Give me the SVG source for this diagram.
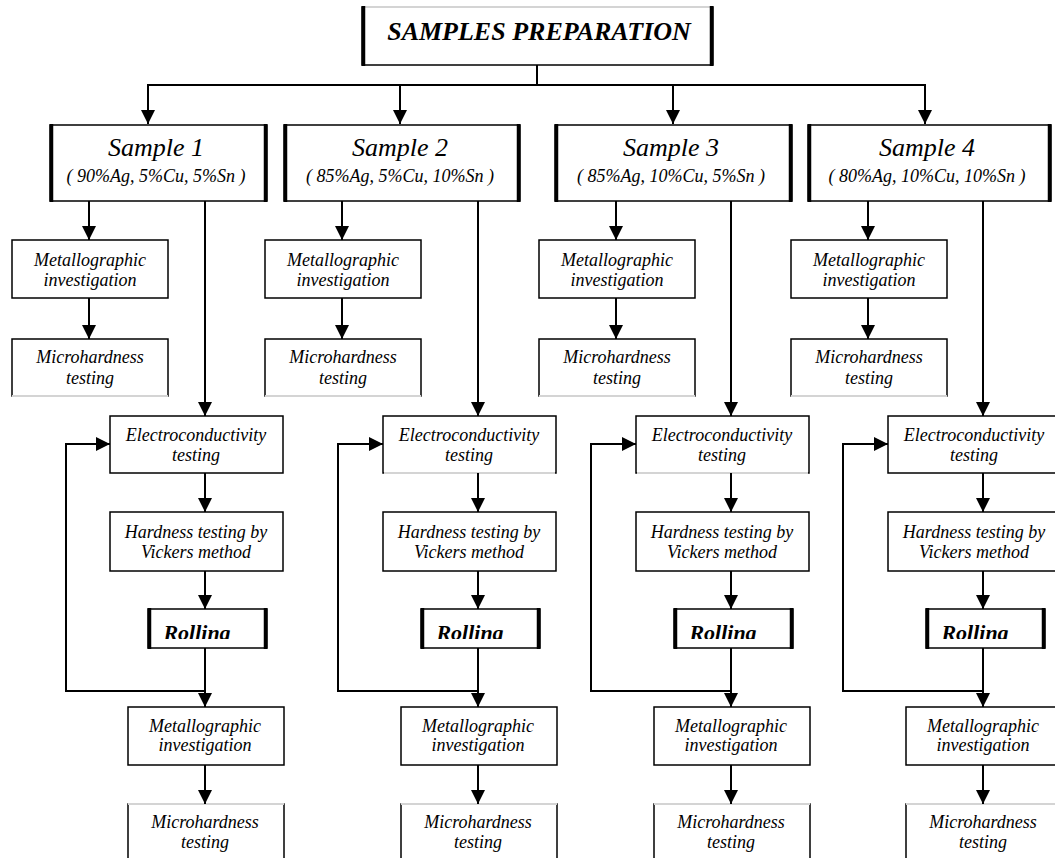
<svg xmlns="http://www.w3.org/2000/svg" width="1055" height="858" viewBox="0 0 1055 858">
<defs>
<marker id="ah" viewBox="0 0 14 14" refX="14" refY="7" markerWidth="14" markerHeight="14" markerUnits="userSpaceOnUse" orient="auto"><path d="M0,0 L14,7 L0,14 z" fill="#000"/></marker>
<clipPath id="rc"><rect x="0" y="600" width="1055" height="39"/></clipPath>
<style>
.bx{fill:#fff;stroke:#000;stroke-width:1.5}
.tk{stroke:#000;stroke-width:3.5}
.gr{stroke:#d4d4d4;stroke-width:2}
.ln{fill:none;stroke:#000;stroke-width:2}
.ar{fill:none;stroke:#000;stroke-width:2;marker-end:url(#ah)}
.t{font-family:"Liberation Serif","Times New Roman",serif;font-style:italic;fill:#000;text-anchor:middle}
.t18{font-size:18px}
.t26{font-size:26px}
.tb{font-family:"Liberation Serif","Times New Roman",serif;font-style:italic;font-weight:bold;fill:#000;text-anchor:middle}
</style>
</defs>
<rect width="1055" height="858" fill="#fff"/>

<g id="title">
<rect class="bx" x="362" y="7" width="351" height="58"/>
<line class="gr" x1="363" y1="7" x2="712" y2="7"/>
<line class="tk" x1="363.5" y1="6" x2="363.5" y2="66"/>
<line class="tk" x1="711.5" y1="6" x2="711.5" y2="66"/>
<text class="tb" x="539" y="40" font-size="26">SAMPLES PREPARATION</text>
</g>

<!-- Column 1 -->
<g id="sample1">
<rect class="bx" x="50" y="125" width="217" height="76"/>
<line class="tk" x1="51.5" y1="124" x2="51.5" y2="202"/>
<line class="tk" x1="265.5" y1="124" x2="265.5" y2="202"/>
<text class="t t26" x="156" y="156">Sample 1</text>
<text class="t t18" x="156" y="182">( 90%Ag, 5%Cu, 5%Sn )</text>
</g>
<g id="metallo1a">
<rect class="bx" x="12" y="240" width="156" height="58"/>
<text class="t t18" x="90" y="266">Metallographic</text>
<text class="t t18" x="90" y="286">investigation</text>
</g>
<g id="micro1a">
<rect class="bx" x="12" y="339" width="156" height="57"/>
<line class="gr" x1="12" y1="396" x2="168" y2="396"/>
<text class="t t18" x="90" y="363">Microhardness</text>
<text class="t t18" x="90" y="384">testing</text>
</g>
<g id="electro1">
<rect class="bx" x="110" y="416" width="173" height="57"/>
<text class="t t18" x="196" y="441">Electroconductivity</text>
<text class="t t18" x="196" y="461">testing</text>
</g>
<g id="hard1">
<rect class="bx" x="110" y="512" width="173" height="59"/>
<text class="t t18" x="196" y="538">Hardness testing by</text>
<text class="t t18" x="196" y="558">Vickers method</text>
</g>
<g id="rolling1">
<rect class="bx" x="148" y="609" width="119" height="39"/>
<line class="tk" x1="149.5" y1="608" x2="149.5" y2="649"/>
<line class="tk" x1="265.5" y1="608" x2="265.5" y2="649"/>
<text class="tb" x="197" y="640" font-size="22" clip-path="url(#rc)">Rolling</text>
</g>
<g id="metallo1b">
<rect class="bx" x="128" y="707" width="156" height="58"/>
<text class="t t18" x="205" y="732">Metallographic</text>
<text class="t t18" x="205" y="751">investigation</text>
</g>
<g id="micro1b">
<rect class="bx" x="128" y="804" width="156" height="60"/>
<line class="gr" x1="128" y1="804" x2="284" y2="804"/>
<text class="t t18" x="205" y="828">Microhardness</text>
<text class="t t18" x="205" y="848">testing</text>
</g>

<!-- Column 2 -->
<g id="sample2">
<rect class="bx" x="284" y="125" width="236" height="76"/>
<line class="tk" x1="285.5" y1="124" x2="285.5" y2="202"/>
<line class="tk" x1="518.5" y1="124" x2="518.5" y2="202"/>
<text class="t t26" x="400" y="156">Sample 2</text>
<text class="t t18" x="400" y="182">( 85%Ag, 5%Cu, 10%Sn )</text>
</g>
<g id="metallo2a">
<rect class="bx" x="265" y="240" width="156" height="58"/>
<text class="t t18" x="343" y="266">Metallographic</text>
<text class="t t18" x="343" y="286">investigation</text>
</g>
<g id="micro2a">
<rect class="bx" x="265" y="339" width="156" height="57"/>
<line class="gr" x1="265" y1="396" x2="421" y2="396"/>
<text class="t t18" x="343" y="363">Microhardness</text>
<text class="t t18" x="343" y="384">testing</text>
</g>
<g id="electro2">
<rect class="bx" x="383" y="416" width="173" height="57"/>
<line class="gr" x1="384" y1="473" x2="555" y2="473"/>
<text class="t t18" x="469" y="441">Electroconductivity</text>
<text class="t t18" x="469" y="461">testing</text>
</g>
<g id="hard2">
<rect class="bx" x="383" y="512" width="173" height="59"/>
<text class="t t18" x="469" y="538">Hardness testing by</text>
<text class="t t18" x="469" y="558">Vickers method</text>
</g>
<g id="rolling2">
<rect class="bx" x="421" y="609" width="119" height="39"/>
<line class="tk" x1="422.5" y1="608" x2="422.5" y2="649"/>
<line class="tk" x1="538.5" y1="608" x2="538.5" y2="649"/>
<text class="tb" x="470" y="640" font-size="22" clip-path="url(#rc)">Rolling</text>
</g>
<g id="metallo2b">
<rect class="bx" x="401" y="707" width="156" height="58"/>
<text class="t t18" x="478" y="732">Metallographic</text>
<text class="t t18" x="478" y="751">investigation</text>
</g>
<g id="micro2b">
<rect class="bx" x="401" y="804" width="156" height="60"/>
<line class="gr" x1="401" y1="804" x2="557" y2="804"/>
<text class="t t18" x="478" y="828">Microhardness</text>
<text class="t t18" x="478" y="848">testing</text>
</g>

<!-- Column 3 -->
<g id="sample3">
<rect class="bx" x="555" y="125" width="237" height="76"/>
<line class="tk" x1="556.5" y1="124" x2="556.5" y2="202"/>
<line class="tk" x1="790.5" y1="124" x2="790.5" y2="202"/>
<text class="t t26" x="671" y="156">Sample 3</text>
<text class="t t18" x="671" y="182">( 85%Ag, 10%Cu, 5%Sn )</text>
</g>
<g id="metallo3a">
<rect class="bx" x="539" y="240" width="156" height="58"/>
<text class="t t18" x="617" y="266">Metallographic</text>
<text class="t t18" x="617" y="286">investigation</text>
</g>
<g id="micro3a">
<rect class="bx" x="539" y="339" width="156" height="57"/>
<line class="gr" x1="539" y1="396" x2="695" y2="396"/>
<text class="t t18" x="617" y="363">Microhardness</text>
<text class="t t18" x="617" y="384">testing</text>
</g>
<g id="electro3">
<rect class="bx" x="636" y="416" width="173" height="57"/>
<line class="gr" x1="637" y1="473" x2="808" y2="473"/>
<text class="t t18" x="722" y="441">Electroconductivity</text>
<text class="t t18" x="722" y="461">testing</text>
</g>
<g id="hard3">
<rect class="bx" x="636" y="512" width="173" height="59"/>
<text class="t t18" x="722" y="538">Hardness testing by</text>
<text class="t t18" x="722" y="558">Vickers method</text>
</g>
<g id="rolling3">
<rect class="bx" x="674" y="609" width="119" height="39"/>
<line class="tk" x1="675.5" y1="608" x2="675.5" y2="649"/>
<line class="tk" x1="791.5" y1="608" x2="791.5" y2="649"/>
<text class="tb" x="723" y="640" font-size="22" clip-path="url(#rc)">Rolling</text>
</g>
<g id="metallo3b">
<rect class="bx" x="654" y="707" width="156" height="58"/>
<text class="t t18" x="731" y="732">Metallographic</text>
<text class="t t18" x="731" y="751">investigation</text>
</g>
<g id="micro3b">
<rect class="bx" x="654" y="804" width="156" height="60"/>
<line class="gr" x1="654" y1="804" x2="810" y2="804"/>
<text class="t t18" x="731" y="828">Microhardness</text>
<text class="t t18" x="731" y="848">testing</text>
</g>

<!-- Column 4 -->
<g id="sample4">
<rect class="bx" x="808" y="125" width="243" height="76"/>
<line class="tk" x1="809.5" y1="124" x2="809.5" y2="202"/>
<line class="tk" x1="1049.5" y1="124" x2="1049.5" y2="202"/>
<text class="t t26" x="927" y="156">Sample 4</text>
<text class="t t18" x="927" y="182">( 80%Ag, 10%Cu, 10%Sn )</text>
</g>
<g id="metallo4a">
<rect class="bx" x="791" y="240" width="156" height="58"/>
<text class="t t18" x="869" y="266">Metallographic</text>
<text class="t t18" x="869" y="286">investigation</text>
</g>
<g id="micro4a">
<rect class="bx" x="791" y="339" width="156" height="57"/>
<line class="gr" x1="791" y1="396" x2="947" y2="396"/>
<text class="t t18" x="869" y="363">Microhardness</text>
<text class="t t18" x="869" y="384">testing</text>
</g>
<g id="electro4">
<rect class="bx" x="888" y="416" width="173" height="57"/>
<text class="t t18" x="974" y="441">Electroconductivity</text>
<text class="t t18" x="974" y="461">testing</text>
</g>
<g id="hard4">
<rect class="bx" x="888" y="512" width="173" height="59"/>
<text class="t t18" x="974" y="538">Hardness testing by</text>
<text class="t t18" x="974" y="558">Vickers method</text>
</g>
<g id="rolling4">
<rect class="bx" x="926" y="609" width="119" height="39"/>
<line class="tk" x1="927.5" y1="608" x2="927.5" y2="649"/>
<line class="tk" x1="1043.5" y1="608" x2="1043.5" y2="649"/>
<text class="tb" x="975" y="640" font-size="22" clip-path="url(#rc)">Rolling</text>
</g>
<g id="metallo4b">
<rect class="bx" x="906" y="707" width="156" height="58"/>
<text class="t t18" x="983" y="732">Metallographic</text>
<text class="t t18" x="983" y="751">investigation</text>
</g>
<g id="micro4b">
<rect class="bx" x="906" y="804" width="156" height="60"/>
<line class="gr" x1="906" y1="804" x2="1062" y2="804"/>
<text class="t t18" x="983" y="828">Microhardness</text>
<text class="t t18" x="983" y="848">testing</text>
</g>

<g id="connectors">
<line class="ln" x1="537" y1="65" x2="537" y2="85"/>
<line class="ln" x1="147" y1="85" x2="926" y2="85"/>
<line class="ar" x1="148" y1="85" x2="148" y2="124"/>
<line class="ar" x1="400" y1="85" x2="400" y2="124"/>
<line class="ar" x1="673" y1="85" x2="673" y2="124"/>
<line class="ar" x1="925" y1="85" x2="925" y2="124"/>

<line class="ar" x1="89" y1="201" x2="89" y2="240"/>
<line class="ar" x1="89" y1="298" x2="89" y2="339"/>
<line class="ar" x1="205" y1="201" x2="205" y2="416"/>
<line class="ar" x1="205" y1="473" x2="205" y2="512"/>
<line class="ar" x1="205" y1="571" x2="205" y2="609"/>
<line class="ar" x1="205" y1="648" x2="205" y2="707"/>
<line class="ar" x1="205" y1="765" x2="205" y2="804"/>
<polyline class="ar" points="205,691 66,691 66,444 110,444"/>

<line class="ar" x1="342" y1="201" x2="342" y2="240"/>
<line class="ar" x1="342" y1="298" x2="342" y2="339"/>
<line class="ar" x1="478" y1="201" x2="478" y2="416"/>
<line class="ar" x1="478" y1="473" x2="478" y2="512"/>
<line class="ar" x1="478" y1="571" x2="478" y2="609"/>
<line class="ar" x1="478" y1="648" x2="478" y2="707"/>
<line class="ar" x1="478" y1="765" x2="478" y2="804"/>
<polyline class="ar" points="478,691 338,691 338,444 383,444"/>

<line class="ar" x1="616" y1="201" x2="616" y2="240"/>
<line class="ar" x1="616" y1="298" x2="616" y2="339"/>
<line class="ar" x1="731" y1="201" x2="731" y2="416"/>
<line class="ar" x1="731" y1="473" x2="731" y2="512"/>
<line class="ar" x1="731" y1="571" x2="731" y2="609"/>
<line class="ar" x1="731" y1="648" x2="731" y2="707"/>
<line class="ar" x1="731" y1="765" x2="731" y2="804"/>
<polyline class="ar" points="731,691 591,691 591,444 636,444"/>

<line class="ar" x1="868" y1="201" x2="868" y2="240"/>
<line class="ar" x1="868" y1="298" x2="868" y2="339"/>
<line class="ar" x1="983" y1="201" x2="983" y2="416"/>
<line class="ar" x1="983" y1="473" x2="983" y2="512"/>
<line class="ar" x1="983" y1="571" x2="983" y2="609"/>
<line class="ar" x1="983" y1="648" x2="983" y2="707"/>
<line class="ar" x1="983" y1="765" x2="983" y2="804"/>
<polyline class="ar" points="983,691 843,691 843,444 888,444"/>
</g>
</svg>
